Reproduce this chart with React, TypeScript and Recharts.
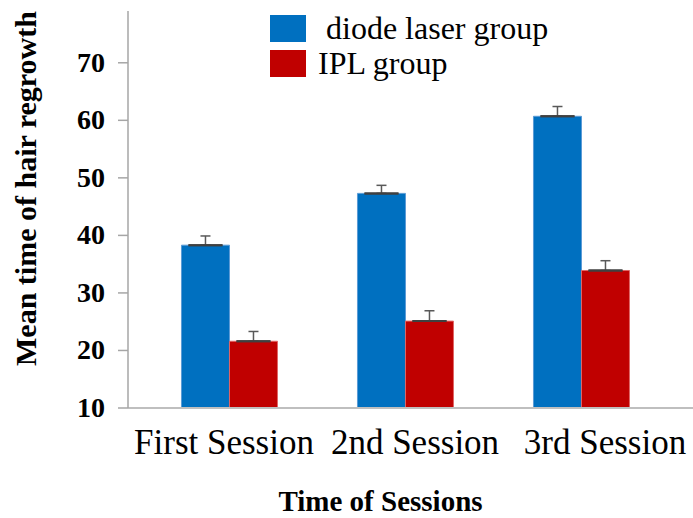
import React from 'react';
import { BarChart, Bar, XAxis, YAxis, ErrorBar, Legend, Label } from 'recharts';

// sessions and group means (days)
const sessions = ['First Session', '2nd Session', '3rd Session'];
const diodeMeans = [38.3, 47.3, 60.7];
const diodeErr = [1.6, 1.4, 1.7];
const iplMeans = [21.6, 25.1, 33.9];
const iplErr = [1.7, 1.8, 1.7];
const yTicks = [10, 20, 30, 40, 50, 60, 70];

const BLUE = '#0070C0';
const RED = '#C00000';
const SERIF = '"Liberation Serif", "Times New Roman", serif';

// label positions in the original are a bit off the group centres
const tickNudge = [-5, 10, 24];

const chartData = sessions.map((name, i) => ({
  name,
  diode: diodeMeans[i],
  diodeErr: [0, diodeErr[i]],
  ipl: iplMeans[i],
  iplErr: [0, iplErr[i]],
  base: [0, 0],
}));

const SessionTick = (props: any) => {
  const { x, y, payload, index } = props;
  return (
    <text x={x + (tickNudge[index] || 0)} y={y} dy={25} textAnchor="middle" fontFamily={SERIF} fontSize={35} fill="#000">
      {payload.value}
    </text>
  );
};

const ValueTick = (props: any) => {
  const { x, y, payload } = props;
  return (
    <text x={x} y={y} dy={9} textAnchor="end" fontFamily={SERIF} fontSize={28} fontWeight="bold" fill="#000">
      {payload.value}
    </text>
  );
};

const renderLegend = () => {
  const items = [
    { label: '\u00a0diode laser group', color: BLUE },
    { label: 'IPL group', color: RED },
  ];
  return (
    <div style={{ fontFamily: SERIF, fontSize: 32, color: '#000' }}>
      {items.map((it) => (
        <div key={it.label} style={{ display: 'flex', alignItems: 'center', height: 35 }}>
          <div style={{ width: 36, height: 27, background: it.color, marginRight: 12 }} />
          <span style={{ lineHeight: '35px' }}>{it.label}</span>
        </div>
      ))}
    </div>
  );
};

export default function App() {
  return (
    <div style={{ position: 'absolute', left: 0, top: 0, background: '#fff' }}>
      <BarChart
        width={693}
        height={518}
        data={chartData}
        margin={{ top: 11, right: 0, bottom: 0, left: 0 }}
        barCategoryGap="23%"
        barGap={0}
      >
        <XAxis
          dataKey="name"
          padding={{ left: 13, right: 24 }}
          axisLine={{ stroke: '#BFBFBF', strokeWidth: 2 }}
          tickLine={false}
          tickSize={0}
          tickMargin={21}
          tick={<SessionTick />}
          interval={0}
          height={110}
        >
          <Label
            content={(p: any) => {
              const vb = p.viewBox;
              return (
                <text x={vb.x + vb.width / 2 - 30} y={511} textAnchor="middle" fontFamily={SERIF} fontSize={29} fontWeight="bold" fill="#000">
                  Time of Sessions
                </text>
              );
            }}
          />
        </XAxis>
        <YAxis
          width={128}
          domain={[10, 79]}
          ticks={yTicks}
          allowDataOverflow
          axisLine={{ stroke: '#A6A6A6', strokeWidth: 1.5 }}
          tickLine={{ stroke: '#A6A6A6', strokeWidth: 1.5 }}
          tickSize={10}
          tickMargin={13}
          tick={<ValueTick />}
        >
          <Label
            content={(p: any) => {
              const vb = p.viewBox;
              const cy = vb.y + vb.height / 2 - 21;
              return (
                <text x={36} y={cy} transform={`rotate(-90 36 ${cy})`} textAnchor="middle" fontFamily={SERIF} fontSize={30} fontWeight="bold" fill="#000">
                  Mean time of hair regrowth
                </text>
              );
            }}
          />
        </YAxis>
        <Legend
          layout="vertical"
          align="center"
          verticalAlign="middle"
          content={renderLegend}
          wrapperStyle={{ left: 270, top: 11, width: 320 }}
        />
        <Bar dataKey="diode" fill={BLUE} stroke="#5B9BD5" strokeWidth={1} isAnimationActive={false}>
          <ErrorBar dataKey="diodeErr" width={5} stroke="#595959" strokeWidth={1.5} direction="y" />
          <ErrorBar dataKey="base" width={17} stroke="#404040" strokeWidth={2} direction="y" />
        </Bar>
        <Bar dataKey="ipl" fill={RED} stroke="#E06666" strokeWidth={1} isAnimationActive={false}>
          <ErrorBar dataKey="iplErr" width={5} stroke="#595959" strokeWidth={1.5} direction="y" />
          <ErrorBar dataKey="base" width={17} stroke="#404040" strokeWidth={2} direction="y" />
        </Bar>
      </BarChart>
    </div>
  );
}
